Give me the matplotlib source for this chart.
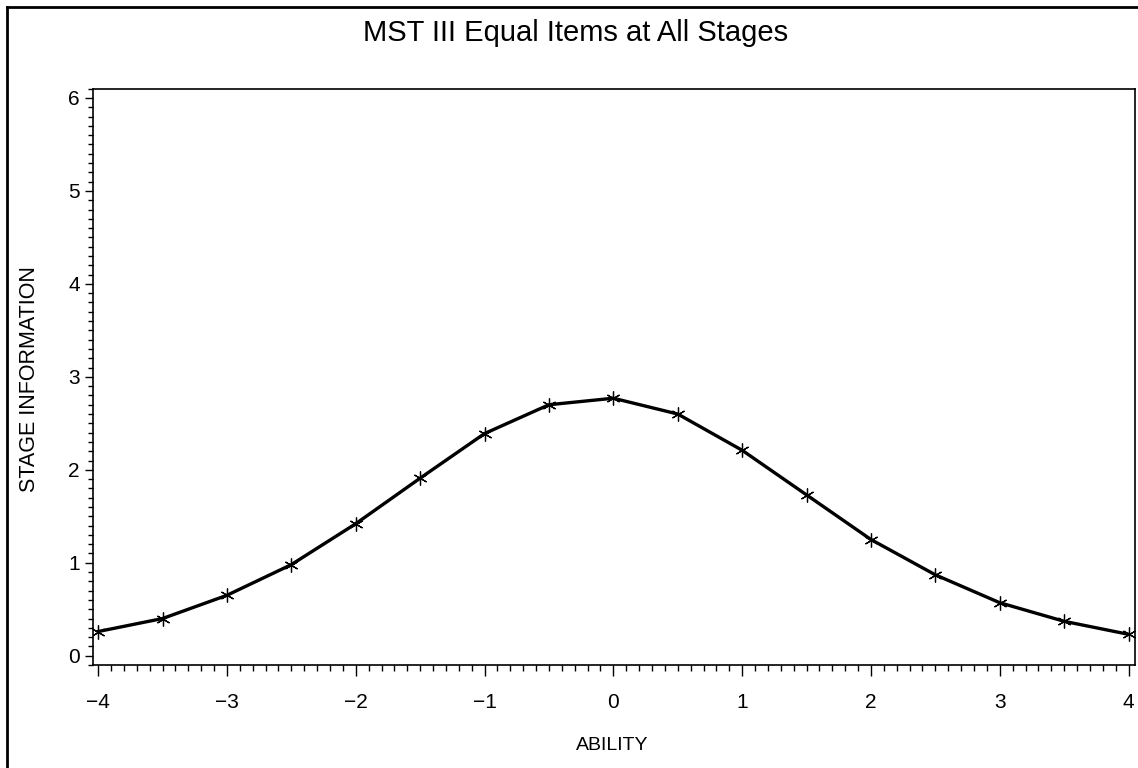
import numpy as np
import matplotlib.pyplot as plt
from matplotlib.lines import Line2D
from matplotlib.ticker import MultipleLocator, AutoMinorLocator

plt.rcParams['font.family'] = ['Liberation Sans', 'DejaVu Sans']

# stage information by ability level
ability = [-4.0, -3.5, -3.0, -2.5, -2.0, -1.5, -1.0, -0.5, 0.0,
           0.5, 1.0, 1.5, 2.0, 2.5, 3.0, 3.5, 4.0]
info = [0.26, 0.40, 0.65, 0.98, 1.42, 1.91, 2.39, 2.70, 2.77,
        2.60, 2.21, 1.73, 1.25, 0.87, 0.57, 0.37, 0.23]

title = "MST III Equal Items at All Stages"
xlabel = "ABILITY"
ylabel = "STAGE INFORMATION"

fig = plt.figure(figsize=(11.38, 7.68), dpi=100)
ax = fig.add_axes([93 / 1138, 1 - 665 / 768, (1135 - 93) / 1138, (665 - 88.7) / 768])

ax.plot(ability, info, color="black", lw=2.4, solid_joinstyle="round",
        marker=(6, 2, 0), markersize=10, markeredgewidth=0.9,
        markeredgecolor="black")

ax.set_xlim(-4.04, 4.05)
ax.set_ylim(-0.1, 6.1)
ax.xaxis.set_major_locator(MultipleLocator(1))
ax.xaxis.set_minor_locator(AutoMinorLocator(10))
ax.yaxis.set_major_locator(MultipleLocator(1))
ax.yaxis.set_minor_locator(AutoMinorLocator(10))

ax.tick_params(axis="x", which="major", length=8, width=1.0, pad=12, labelsize=15)
ax.tick_params(axis="x", which="minor", length=4.5, width=1.0)
ax.tick_params(axis="y", which="major", length=5.5, width=1.0, pad=4, labelsize=15)
ax.tick_params(axis="y", which="minor", length=3.5, width=1.0)

for s in ax.spines.values():
    s.set_linewidth(1.2)

fig.text(576 / 1138, 1 - 33 / 768, title, ha="center", va="center", fontsize=21)
fig.text(612 / 1138, 1 - 745 / 768, xlabel, ha="center", va="center", fontsize=14)
fig.text(30 / 1138, 1 - 379 / 768, ylabel, ha="center", va="center",
         rotation=90, fontsize=15.5)

# outer frame lines along the top and left edges
fig.add_artist(Line2D([7 / 1138, 1.0], [1 - 7 / 768, 1 - 7 / 768],
                      transform=fig.transFigure, color="black", lw=2))
fig.add_artist(Line2D([7 / 1138, 7 / 1138], [0.0, 1 - 7 / 768],
                      transform=fig.transFigure, color="black", lw=2))

fig.savefig("out.png", dpi=100)
